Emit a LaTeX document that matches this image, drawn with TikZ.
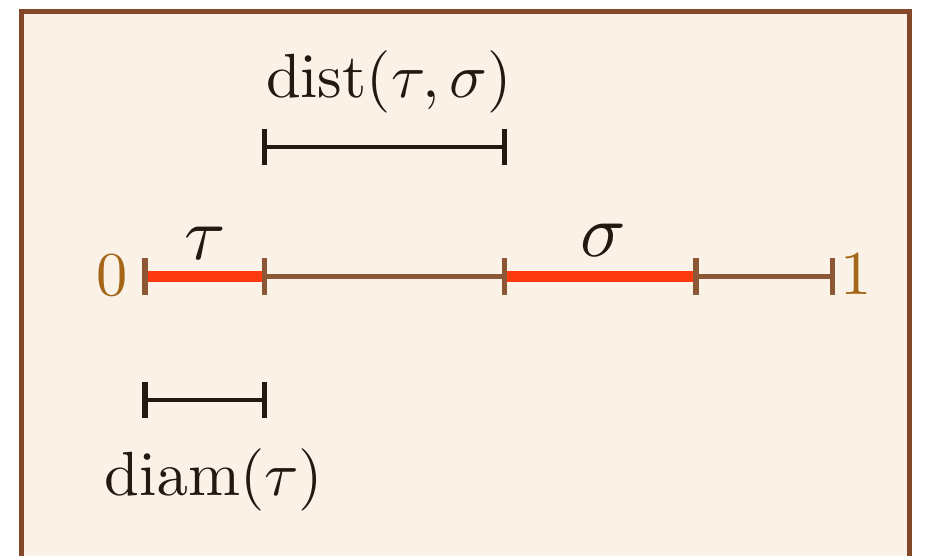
\documentclass[tikz,border=0pt]{standalone}
\definecolor{framebrown}{HTML}{824828}
\definecolor{paper}{HTML}{FAF2E7}
\definecolor{axisbrown}{HTML}{8B5734}
\definecolor{segred}{HTML}{FF3A10}
\definecolor{numcol}{HTML}{A5661A}
\definecolor{ink}{HTML}{221A10}
\newcommand{\bigtxt}[1]{\scalebox{1.56}{#1}}
\newcommand{\hugetxt}[1]{\scalebox{1.88}{#1}}
\begin{document}
\begin{tikzpicture}[x=0.25pt,y=-0.25pt,
  axisline/.style={draw=axisbrown,line width=1.2pt},
  redseg/.style={draw=segred,line width=2.6pt},
  tickmark/.style={draw=axisbrown,line width=1.3pt},
  measbar/.style={draw=ink,line width=1.2pt},
  meastick/.style={draw=ink,line width=1.3pt},
  numlabel/.style={text=numcol,anchor=base,inner sep=0pt},
  setlabel/.style={text=ink,anchor=base,inner sep=0pt},
  measlabel/.style={text=ink,anchor=base,inner sep=0pt}]
\useasboundingbox (0,0) rectangle (925,556);
\clip (0,0) rectangle (925,556);
\fill[white] (0,0) rectangle (925,556);
\draw[framebrown,fill=paper,line width=1.25pt] (21.5,12) rectangle (909.5,640);
% axis coordinates
\coordinate (p0) at (145,276.5);
\coordinate (pa) at (264.5,276.5);
\coordinate (pb) at (504.5,276.5);
\coordinate (pc) at (696,276.5);
\coordinate (p1) at (832.5,276.5);
\path[axisline] (pa) -- (pb);
\path[axisline] (pc) -- (p1);
\path[redseg] (p0) -- (pa);
\path[redseg] (pb) -- (pc);
\foreach \p in {p0,pa,pb,pc,p1}
  \path[tickmark] ([yshift=-4.6pt]\p) -- ([yshift=4.6pt]\p);
\node[numlabel] (zero) at (112,296) {\bigtxt{0}};
\node[numlabel] (one) at (856,295) {\bigtxt{1}};
\node[setlabel] (tau) at (205,260) {\hugetxt{$\tau$}};
\node[setlabel] (sigma) at (603,257) {\hugetxt{$\sigma$}};
% dist bar
\coordinate (da) at (264.5,147);
\coordinate (db) at (504.5,147);
\path[measbar] (da) -- (db);
\path[meastick] ([yshift=-4.5pt]da) -- ([yshift=4.5pt]da);
\path[meastick] ([yshift=-4.5pt]db) -- ([yshift=4.5pt]db);
\node[measlabel] (dist) at (389,98) {\bigtxt{$\mathrm{dist}(\tau,\sigma)$}};
% diam bar
\coordinate (ma) at (145,400);
\coordinate (mb) at (264.5,400);
\path[measbar] (ma) -- (mb);
\path[meastick] ([yshift=-4.5pt]ma) -- ([yshift=4.5pt]ma);
\path[meastick] ([yshift=-4.5pt]mb) -- ([yshift=4.5pt]mb);
\node[measlabel] (diam) at (214,496) {\bigtxt{$\mathrm{diam}(\tau)$}};
\end{tikzpicture}
\end{document}
